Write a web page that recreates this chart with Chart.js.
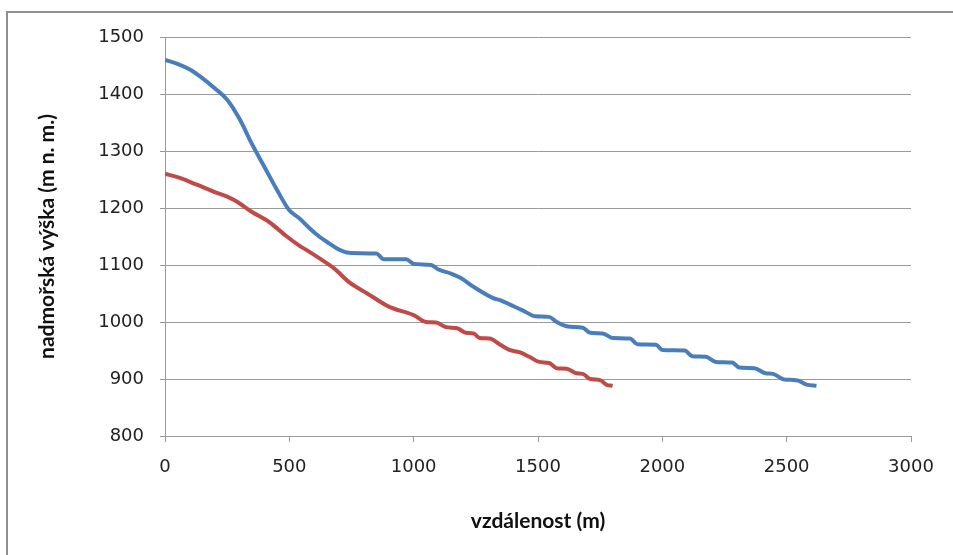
<!DOCTYPE html>
<html>
<head>
<meta charset="utf-8">
<script src="https://cdn.jsdelivr.net/npm/chart.js@4/dist/chart.umd.min.js"></script>
<style>
  html, body { margin: 0; padding: 0; background: #fff; }
  #wrap { position: relative; width: 953px; height: 555px; overflow: hidden; }
  #frame { position: absolute; left: 6px; top: 11px; right: -10px; bottom: -10px;
           border-left: 2px solid #8e8e8e; border-top: 2px solid #8e8e8e; }
  canvas { position: absolute; left: 0; top: 0; }
</style>
</head>
<body>
<div id="wrap">
  <div id="frame"></div>
  <canvas id="c" width="953" height="555"></canvas>
</div>
<script>
// Data
const blueDist = [0, 50, 100, 150, 200, 250, 300, 350, 400, 450, 500, 540, 580, 620, 660, 700, 750, 850, 880, 970, 1000, 1070, 1100, 1150, 1190, 1240, 1320, 1350, 1390, 1440, 1490, 1545, 1575, 1620, 1680, 1710, 1760, 1800, 1870, 1900, 1975, 2000, 2090, 2120, 2175, 2215, 2280, 2310, 2370, 2415, 2445, 2490, 2540, 2580, 2620];
const blueElev = [1460, 1453, 1443, 1428, 1410, 1390, 1356, 1312, 1272, 1232, 1196, 1182, 1165, 1150, 1138, 1127, 1121, 1120, 1110, 1110, 1102, 1100, 1092, 1085, 1077, 1062, 1042, 1038, 1030, 1020, 1010, 1009, 1000, 992, 990, 981, 980, 972, 971, 961, 960, 951, 950, 940, 939, 930, 929, 920, 919, 910, 909, 899, 898, 890, 888];

const redDist = [0, 50, 100, 150, 200, 250, 290, 350, 420, 490, 540, 570, 620, 680, 740, 810, 900, 1000, 1050, 1090, 1130, 1175, 1210, 1240, 1265, 1305, 1345, 1385, 1425, 1465, 1505, 1545, 1575, 1615, 1655, 1680, 1710, 1750, 1775, 1800];
const redElev = [1260, 1254, 1246, 1237, 1228, 1220, 1211, 1193, 1175, 1150, 1134, 1126, 1112, 1094, 1070, 1051, 1027, 1012, 1000, 999, 991, 989, 981, 980, 972, 971, 961, 951, 947, 939, 930, 928, 919, 918, 910, 909, 900, 898, 890, 888];

const xTicks = [0, 500, 1000, 1500, 2000, 2500, 3000];
const yTicks = [800, 900, 1000, 1100, 1200, 1300, 1400, 1500];
const xTitle = 'vzdálenost (m)';
const yTitle = 'nadmořská výška (m n. m.)';

const toPts = (xs, ys) => xs.map((x, i) => ({ x: x, y: ys[i] }));

const gridColor = '#9a9a9a';
const tickFont = { family: 'DejaVu Sans', size: 18 };
const titleFont = { family: 'Lato', size: 21, weight: 'bold' };

new Chart(document.getElementById('c'), {
  type: 'line',
  data: {
    datasets: [
      { data: toPts(blueDist, blueElev), borderColor: '#4a7ebb', borderWidth: 4, pointRadius: 0, tension: 0.3, cubicInterpolationMode: 'monotone', fill: false },
      { data: toPts(redDist, redElev), borderColor: '#be4b48', borderWidth: 4, pointRadius: 0, tension: 0.3, cubicInterpolationMode: 'monotone', fill: false }
    ]
  },
  options: {
    responsive: false,
    animation: false,
    layout: { padding: { left: 31, right: 42, top: 37, bottom: 17 } },
    plugins: { legend: { display: false }, tooltip: { enabled: false } },
    scales: {
      x: {
        type: 'linear',
        min: 0, max: 3000,
        afterBuildTicks: (s) => { s.ticks = xTicks.map(v => ({ value: v })); },
        afterFit: (s) => { s.height = 102; },
        grid: { drawOnChartArea: false, drawTicks: true, tickLength: 6, color: gridColor },
        border: { display: true, color: gridColor },
        ticks: { font: tickFont, color: '#222', padding: 15, maxRotation: 0, callback: (v) => String(v) },
        title: { display: true, text: xTitle, font: titleFont, color: '#111', padding: { top: 4, bottom: 4 } }
      },
      y: {
        type: 'linear',
        min: 800, max: 1500,
        afterBuildTicks: (s) => { s.ticks = yTicks.map(v => ({ value: v })); },
        afterFit: (s) => { s.width = 165 - 31; },
        grid: { drawOnChartArea: true, drawTicks: true, tickLength: 5, color: gridColor },
        border: { display: true, color: gridColor },
        ticks: { font: tickFont, color: '#222', padding: 16, callback: (v) => String(v) },
        title: { display: true, text: yTitle, font: titleFont, color: '#111', padding: { top: 4, bottom: 4 } }
      }
    }
  }
});
</script>
</body>
</html>
